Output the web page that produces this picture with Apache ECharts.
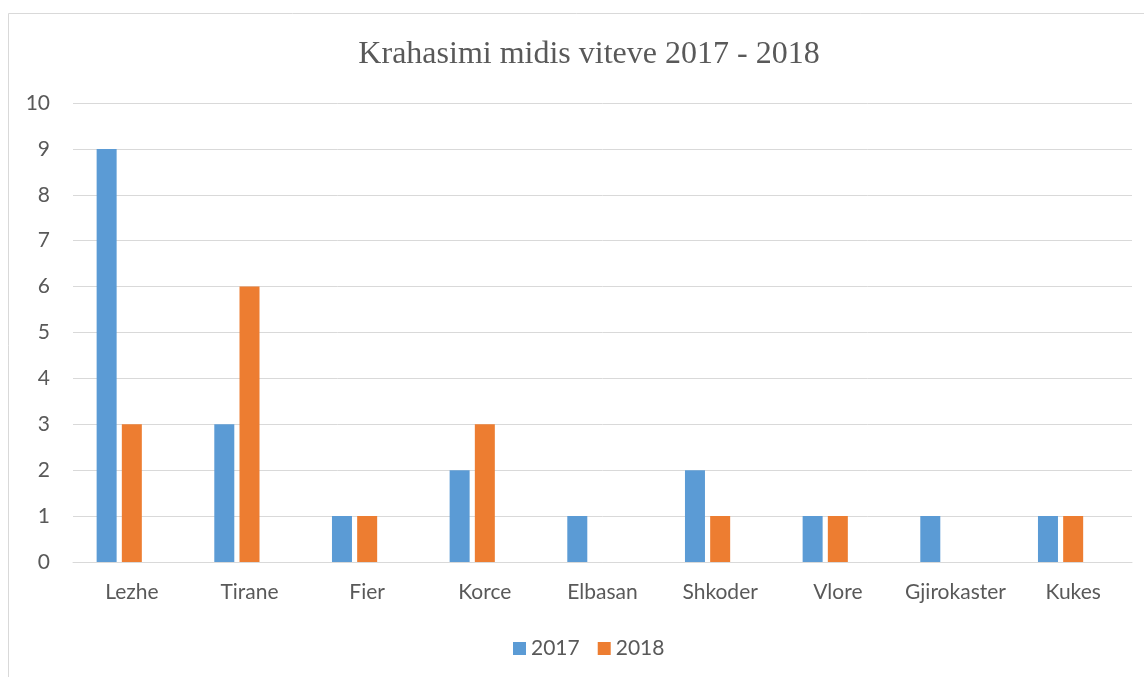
<!DOCTYPE html>
<html>
<head>
<meta charset="utf-8">
<script src="https://cdn.jsdelivr.net/npm/echarts@6/dist/echarts.min.js"></script>
<style>
  html, body { margin: 0; padding: 0; background: #fff; }
  #chart { width: 1144px; height: 677px; }
</style>
</head>
<body>
<div id="chart"></div>
<script>
var CITIES = ['Lezhe', 'Tirane', 'Fier', 'Korce', 'Elbasan', 'Shkoder', 'Vlore', 'Gjirokaster', 'Kukes'];
var VALUES_2017 = [9, 3, 1, 2, 1, 2, 1, 1, 1];
var VALUES_2018 = [3, 6, 1, 3, null, 1, 1, null, 1];
// the original sheet has a third, empty series that still takes a slot
var VALUES_EMPTY = [];
var Y_MAX = 10;

var TEXT = '#595959';
var LABEL_FONT = 'Lato, "Open Sans", sans-serif';

var chart = echarts.init(document.getElementById('chart'), null, { renderer: 'canvas' });

chart.setOption({
  animation: false,
  backgroundColor: '#fff',
  graphic: [{
    type: 'rect',
    shape: { x: 8.5, y: 13.5, width: 1200, height: 700 },
    style: { fill: 'none', stroke: '#d9d9d9', lineWidth: 1 },
    silent: true
  }],
  title: {
    text: 'Krahasimi midis viteve 2017 - 2018',
    left: 584,
    top: 34,
    textAlign: 'center',
    textStyle: {
      fontFamily: '"Liberation Serif", "Times New Roman", serif',
      fontSize: 32,
      fontWeight: 'normal',
      color: TEXT
    }
  },
  legend: {
    data: ['2017', '2018'],
    left: 513,
    top: 638,
    padding: 0,
    icon: 'rect',
    itemWidth: 13,
    itemHeight: 13,
    itemGap: 18,
    textStyle: { fontFamily: LABEL_FONT, fontSize: 21, color: TEXT }
  },
  grid: { left: 73, right: 12, top: 103, bottom: 115, containLabel: false },
  xAxis: {
    type: 'category',
    data: CITIES,
    axisLine: { show: true, lineStyle: { color: '#d9d9d9', width: 1 } },
    axisTick: { show: false },
    axisLabel: { interval: 0, margin: 20, fontFamily: LABEL_FONT, fontSize: 21, color: TEXT }
  },
  yAxis: {
    type: 'value',
    min: 0,
    max: Y_MAX,
    interval: 1,
    axisLine: { show: false },
    axisTick: { show: false },
    splitLine: { lineStyle: { color: '#d9d9d9', width: 1 } },
    axisLabel: { margin: 23, fontFamily: LABEL_FONT, fontSize: 21, color: TEXT }
  },
  series: [
    {
      name: '2017', type: 'bar', data: VALUES_2017,
      barWidth: 20, barGap: '26%',
      itemStyle: { color: '#5b9bd5' }
    },
    {
      name: '2018', type: 'bar', data: VALUES_2018,
      barWidth: 20, barGap: '26%',
      itemStyle: { color: '#ed7d31' }
    },
    {
      name: '', type: 'bar', data: VALUES_EMPTY,
      barWidth: 20, barGap: '26%'
    }
  ]
});
</script>
</body>
</html>
